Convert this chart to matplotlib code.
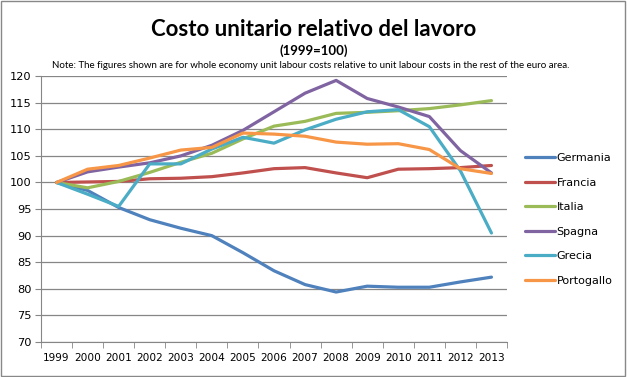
import matplotlib
matplotlib.use('Agg')
import matplotlib.pyplot as plt
from matplotlib.patches import Rectangle

years = [str(y) for y in range(1999, 2014)]
germania = [100, 98.5, 95.3, 93.0, 91.4, 90.0, 86.8, 83.4, 80.8, 79.4, 80.5, 80.3, 80.3, 81.3, 82.2]
francia = [100, 100.1, 100.2, 100.7, 100.8, 101.1, 101.8, 102.6, 102.8, 101.8, 100.9, 102.5, 102.6, 102.8, 103.2]
italia = [100, 99.0, 100.2, 101.9, 103.8, 105.5, 108.2, 110.6, 111.5, 113.0, 113.2, 113.5, 113.9, 114.6, 115.4]
spagna = [100, 102.0, 102.9, 103.7, 105.0, 107.0, 109.8, 113.3, 116.8, 119.2, 115.8, 114.2, 112.4, 106.0, 101.8]
grecia = [100, 97.8, 95.5, 103.5, 103.5, 106.3, 108.5, 107.4, 109.9, 111.9, 113.3, 113.7, 110.5, 102.2, 90.5]
portogallo = [100, 102.5, 103.2, 104.6, 106.1, 106.6, 109.3, 109.1, 108.7, 107.6, 107.2, 107.3, 106.2, 102.6, 101.7]

series = [
    ("Germania", germania, "#4F81BD"),
    ("Francia", francia, "#C0504D"),
    ("Italia", italia, "#9BBB59"),
    ("Spagna", spagna, "#8064A2"),
    ("Grecia", grecia, "#4BACC6"),
    ("Portogallo", portogallo, "#F79646"),
]

fig = plt.figure(figsize=(6.27, 3.77), dpi=100, facecolor='white')
fig.patches.append(Rectangle((0.002, 0.003), 0.995, 0.994, transform=fig.transFigure,
                             facecolor='none', edgecolor='#888888', linewidth=1.0))

ax = fig.add_axes([0.0654, 0.0928, 0.7432, 0.7052])
x = list(range(len(years)))
for name, vals, col in series:
    ax.plot(x, vals, color=col, lw=2.3, label=name, solid_capstyle='round')

ax.set_xlim(-0.5, len(years) - 0.5)
ax.set_ylim(70, 120)
ax.set_yticks(range(70, 121, 5))
ax.yaxis.grid(True, color='#868686', lw=0.9)
ax.set_axisbelow(True)
ax.set_xticks(x)
ax.set_xticklabels(years)
ax.set_xticks([i - 0.5 for i in range(len(years) + 1)], minor=True)
ax.tick_params(axis='x', which='major', length=0, pad=8, labelsize=7.6, colors='black')
ax.tick_params(axis='x', which='minor', length=4, color='#868686', direction='out')
ax.tick_params(axis='y', length=4, color='#868686', direction='out', labelsize=8.2, pad=3)
for s in ['top', 'right']:
    ax.spines[s].set_visible(False)
for s in ['left', 'bottom']:
    ax.spines[s].set_color('#868686')

fig.text(0.5, 0.923, 'Costo unitario relativo del lavoro', ha='center', va='center',
         fontsize=16, fontweight='bold', family='Lato')
fig.text(0.5, 0.866, '(1999=100)', ha='center', va='center',
         fontsize=9.5, fontweight='bold', family='Lato')
fig.text(0.495, 0.827, 'Note: The figures shown are for whole economy unit labour costs relative to unit labour costs in the rest of the euro area.',
         ha='center', va='center', fontsize=7.0, family='Lato')

fig.legend(loc='upper left', bbox_to_anchor=(0.83, 0.605), frameon=False,
           fontsize=8, handlelength=2.7, handletextpad=0.15, labelspacing=1.3,
           borderaxespad=0)

fig.savefig('out.png', dpi=100, facecolor='white')
